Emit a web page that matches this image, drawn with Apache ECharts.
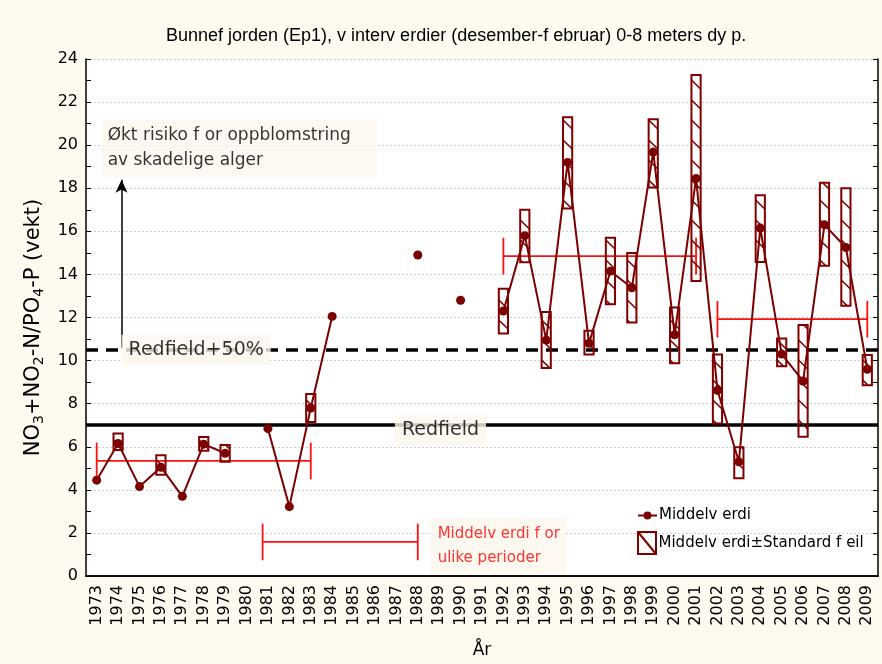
<!DOCTYPE html>
<html>
<head>
<meta charset="utf-8">
<script src="https://cdn.jsdelivr.net/npm/echarts@6/dist/echarts.min.js"></script>
<style>
  html, body { margin: 0; padding: 0; background: #FEFAF0; width: 882px; height: 664px; overflow: hidden; }
  #chart { width: 882px; height: 664px; }
</style>
</head>
<body>
<div id="chart"></div>
<script>
// Winter means (Dec–Feb), 0–8 m, Bunnefjorden Ep1
const years = ['1973','1974','1975','1976','1977','1978','1979','1980','1981','1982',
  '1983','1984','1985','1986','1987','1988','1989','1990','1991','1992','1993','1994',
  '1995','1996','1997','1998','1999','2000','2001','2002','2003','2004','2005','2006',
  '2007','2008','2009'];

const means = [4.45, 6.15, 4.15, 5.05, 3.7, 6.12, 5.7, null, 6.84, 3.22,
  7.8, 12.05, null, null, null, 14.9, null, 12.8, null, 12.3, 15.8, 10.95,
  19.2, 10.8, 14.15, 13.38, 19.68, 11.2, 18.45, 8.62, 5.3, 16.15, 10.3, 9.05,
  16.3, 15.25, 9.6];

// mean + standard error / mean - standard error (null where only one sample)
const seHigh = [null, 6.62, null, 5.6, null, 6.45, 6.08, null, null, null,
  8.45, null, null, null, null, null, null, null, null, 13.34, 17.0, 12.26,
  21.3, 11.38, 15.7, 15.0, 21.2, 12.46, 23.26, 10.28, 5.98, 17.68, 11.03, 11.65,
  18.25, 18.0, 10.26];
const seLow = [null, 5.85, null, 4.7, null, 5.82, 5.3, null, null, null,
  7.15, null, null, null, null, null, null, null, null, 11.26, 14.57, 9.66,
  17.06, 10.28, 12.61, 11.77, 18.03, 9.88, 13.69, 7.08, 4.54, 14.58, 9.74, 6.46,
  14.4, 12.54, 8.85];

// period means: [first year, last year, mean]
const periodMeans = [[1973, 1983, 5.34], [1992, 2001, 14.85], [2002, 2009, 11.92]];
// key bar shown next to the "Middelverdi for ulike perioder" note
const periodKey = [[1980.75, 1988, 1.58]];
const CAP = 0.85;

const REDFIELD = 7;
const REDFIELD_PLUS50 = REDFIELD * 1.5;

const yTicks = { min: 0, max: 24, interval: 2 };

const TITLE = 'Bunnef jorden (Ep1), v interv erdier (desember-f ebruar) 0-8 meters dy p.';
const NAME_MEAN = 'Middelv erdi';
const NAME_SE = 'Middelv erdi±Standard f eil';

const DARK_RED = '#800000';
const BOX_BG = '#FDF8EC';
const FONT = 'DejaVu Sans';

const boxData = [];
years.forEach((y, i) => {
  if (seHigh[i] != null) boxData.push([i, seLow[i], seHigh[i]]);
});

function renderBox(params, api) {
  const hi = api.coord([api.value(0), api.value(2)]);
  const lo = api.coord([api.value(0), api.value(1)]);
  const hw = 4.6;
  const x0 = hi[0] - hw, x1 = hi[0] + hw;
  const top = hi[1], bot = lo[1];
  const step = 20, drop = 9;
  const children = [];
  for (let y = Math.floor((top - drop) / step) * step; y < bot; y += step) {
    let t0 = 0, t1 = 1;
    if (y < top) t0 = (top - y) / drop;
    if (y + drop > bot) t1 = (bot - y) / drop;
    if (t1 <= t0) continue;
    children.push({
      type: 'line',
      shape: { x1: x0 + t0 * (x1 - x0), y1: y + t0 * drop, x2: x0 + t1 * (x1 - x0), y2: y + t1 * drop },
      style: { stroke: DARK_RED, lineWidth: 1.6 }
    });
  }
  children.push({
    type: 'rect',
    shape: { x: x0, y: top, width: 2 * hw, height: bot - top },
    style: { fill: 'none', stroke: DARK_RED, lineWidth: 2 }
  });
  return { type: 'group', children };
}

function renderPeriod(params, api) {
  const a = api.coord([api.value(0), api.value(2)]);
  const b = api.coord([api.value(1), api.value(2)]);
  const capTop = api.coord([api.value(0), api.value(2) + CAP])[1];
  const capBot = api.coord([api.value(0), api.value(2) - CAP])[1];
  const st = { stroke: '#FF1010', lineWidth: 1.8 };
  return {
    type: 'group',
    children: [
      { type: 'line', shape: { x1: a[0], y1: a[1], x2: b[0], y2: b[1] }, style: st },
      { type: 'line', shape: { x1: a[0], y1: capTop, x2: a[0], y2: capBot }, style: st },
      { type: 'line', shape: { x1: b[0], y1: capTop, x2: b[0], y2: capBot }, style: st }
    ]
  };
}

function note(x, y, text, extra) {
  return {
    value: [x, y],
    label: Object.assign({
      show: true, position: 'right', distance: 0,
      formatter: text, fontFamily: FONT, color: '#000',
      backgroundColor: BOX_BG, align: 'left', verticalAlign: 'middle'
    }, extra)
  };
}

const chart = echarts.init(document.getElementById('chart'), null,
  { renderer: 'canvas', width: 882, height: 664 });

const option = {
  backgroundColor: '#FEFAF0',
  animation: false,
  title: {
    text: TITLE,
    left: 161, top: 22,
    textStyle: { fontFamily: 'Liberation Sans Narrow, Liberation Sans', fontSize: 18, fontWeight: 'normal', color: '#000' }
  },
  grid: { left: 86, width: 792, top: 59, height: 520, show: true, backgroundColor: '#FFFFFF', borderWidth: 0 },
  legend: [
    {
      left: 632, top: 503, itemWidth: 19, itemHeight: 10, itemGap: 4,
      textStyle: { fontFamily: FONT, fontSize: 15, color: '#000', padding: [0, 0, 0, -3] },
      data: [{ name: NAME_MEAN }]
    },
    {
      left: 632, top: 526, itemWidth: 19, itemHeight: 22,
      textStyle: { fontFamily: FONT, fontSize: 15, color: '#000', padding: [0, 0, 0, -3] },
      data: [{
        name: NAME_SE,
        icon: 'path://M1,1L19,1L19,23L1,23Z M1,1L19,23',
        itemStyle: { color: 'rgba(0,0,0,0)', borderColor: DARK_RED, borderWidth: 2 }
      }]
    }
  ],
  xAxis: [
    {
      type: 'category', data: years, position: 'bottom', boundaryGap: true,
      name: 'År', nameLocation: 'middle', nameGap: 66,
      nameTextStyle: { fontFamily: FONT, fontSize: 17, color: '#000' },
      axisLine: { lineStyle: { color: '#000', width: 1.5 } },
      axisTick: { inside: true, alignWithLabel: true, length: 5, lineStyle: { color: '#000' } },
      axisLabel: { rotate: 90, margin: 9, fontFamily: FONT, fontSize: 16, color: '#000', interval: 0 },
      splitLine: { show: false }
    },
    {
      type: 'category', data: years, position: 'top', boundaryGap: true,
      axisLine: { lineStyle: { color: '#000', width: 1.5 } },
      axisTick: { inside: true, alignWithLabel: true, length: 5, lineStyle: { color: '#000' } },
      axisLabel: { show: false },
      splitLine: { show: false }
    },
    { type: 'value', min: 1972.5, max: 2009.5, show: false, splitLine: { show: false } }
  ],
  yAxis: [
    {
      type: 'value', min: yTicks.min, max: yTicks.max, interval: yTicks.interval, position: 'left',
      name: '{n|NO}{s|3}{n|+NO}{s|2}{n|-N/PO}{s|4}{n|-P (vekt)}',
      nameLocation: 'middle', nameRotate: 90, nameGap: 39,
      nameTextStyle: {
        padding: [0, 20, 0, 0],
        rich: {
          n: { fontFamily: FONT, fontSize: 21, color: '#000', lineHeight: 26 },
          s: { fontFamily: FONT, fontSize: 14, color: '#000', lineHeight: 14, verticalAlign: 'bottom' }
        }
      },
      axisLine: { show: true, lineStyle: { color: '#000', width: 1.5 } },
      axisTick: { show: true, inside: true, length: 5, lineStyle: { color: '#000' } },
      minorTick: { show: true, splitNumber: 2, length: 5, lineStyle: { color: '#000' } },
      axisLabel: { margin: 8, fontFamily: FONT, fontSize: 16, color: '#000' },
      splitLine: { show: true, lineStyle: { color: '#CFCFCF', type: [2, 2], width: 1 } }
    },
    {
      type: 'value', min: yTicks.min, max: yTicks.max, interval: yTicks.interval, position: 'right',
      axisLine: { show: true, lineStyle: { color: '#000', width: 1.5 } },
      axisTick: { show: true, inside: true, length: 5, lineStyle: { color: '#000' } },
      minorTick: { show: true, splitNumber: 2, length: 5, lineStyle: { color: '#000' } },
      axisLabel: { show: false },
      splitLine: { show: false }
    }
  ],
  series: [
    {
      name: 'reference',
      type: 'custom',
      xAxisIndex: 2, yAxisIndex: 0,
      data: periodMeans.concat(periodKey),
      renderItem: renderPeriod,
      silent: true,
      z: 4,
      markLine: {
        silent: true,
        symbol: ['none', 'none'],
        label: { show: false },
        data: [
          { yAxis: REDFIELD, lineStyle: { color: '#000', width: 3.5, type: 'solid' } },
          { yAxis: REDFIELD_PLUS50, lineStyle: { color: '#000', width: 3.5, type: [12, 8] } },
          [
            { coord: [1974.16, 10.6], symbol: 'none', lineStyle: { color: '#000', width: 1.5, type: 'solid' } },
            { coord: [1974.16, 18.4], symbol: 'arrow', symbolSize: [9, 13] }
          ]
        ]
      }
    },
    {
      name: NAME_MEAN,
      type: 'line',
      xAxisIndex: 0, yAxisIndex: 0,
      data: means,
      connectNulls: false,
      symbol: 'circle', symbolSize: 9,
      itemStyle: { color: '#7B0000' },
      lineStyle: { color: '#7B0000', width: 2 },
      z: 5
    },
    {
      name: NAME_SE,
      type: 'custom',
      xAxisIndex: 0, yAxisIndex: 0,
      data: boxData,
      renderItem: renderBox,
      itemStyle: { color: DARK_RED },
      z: 6
    },
    {
      name: 'notes',
      type: 'scatter',
      xAxisIndex: 2, yAxisIndex: 0,
      symbolSize: 0,
      silent: true,
      z: 10,
      data: [
        note(1973.23, 19.87, 'Økt risiko f or oppblomstring\nav skadelige alger',
          { fontSize: 17, lineHeight: 25, padding: [4, 26, 4, 6] }),
        note(1974.16, REDFIELD_PLUS50, 'Redfield+50%',
          { fontSize: 19, padding: [6, 7, 5, 7] }),
        note(1986.93, REDFIELD - 0.22, 'Redfield',
          { fontSize: 19, padding: [6, 7, 5, 7] }),
        note(1988.6, 1.41, 'Middelv erdi f or\nulike perioder',
          { fontSize: 15, lineHeight: 24, color: '#FF0000', padding: [4, 6, 4, 7] })
      ]
    }
  ]
};

chart.setOption(option);
</script>
</body>
</html>
